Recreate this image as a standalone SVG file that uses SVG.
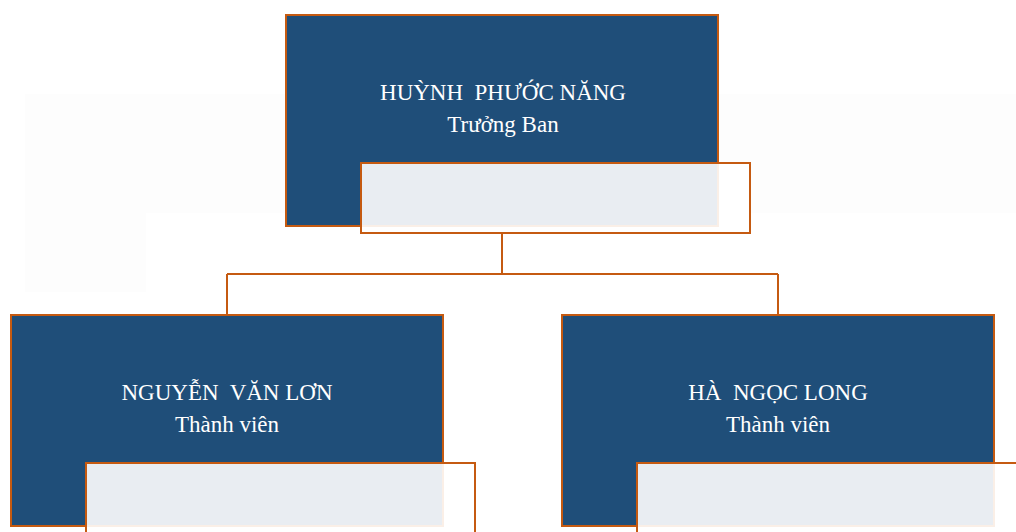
<svg xmlns="http://www.w3.org/2000/svg" width="1016" height="532" viewBox="0 0 1016 532">
<style>
.box{fill:#1f4e79;stroke:#c55a11;stroke-width:2}
.ov{fill:#ffffff;fill-opacity:0.9;stroke:#c55a11;stroke-width:2}
.name,.role{font-family:"Liberation Serif","Times New Roman",serif;fill:#ffffff;text-anchor:middle;font-size:23px;white-space:pre}
.conn{fill:none;stroke:#c55a11;stroke-width:2}
</style>
<rect width="1016" height="532" fill="#ffffff"/>
<g id="background">
<path d="M25 94 H1016 V213 H146 V292 H25 Z" fill="#fdfdfd"/>
</g>
<g id="connectors">
<path class="conn" d="M502 233 V274 M227 274 H778 M227 274 V315 M778 274 V315"/>
</g>
<g id="node-top">
<rect class="box" x="286" y="15" width="432" height="211"/>
<text class="name" x="503" y="100" xml:space="preserve">HUỲNH  PHƯỚC NĂNG</text>
<text class="role" x="503" y="132">Trưởng Ban</text>
<rect class="ov" x="361" y="163" width="389" height="70"/>
</g>
<g id="node-left">
<rect class="box" x="11" y="315" width="432" height="211"/>
<text class="name" x="227" y="400" xml:space="preserve">NGUYỄN  VĂN LƠN</text>
<text class="role" x="227" y="432">Thành viên</text>
<rect class="ov" x="86" y="463" width="389" height="80"/>
</g>
<g id="node-right">
<rect class="box" x="562" y="315" width="432" height="211"/>
<text class="name" x="778" y="400" xml:space="preserve">HÀ  NGỌC LONG</text>
<text class="role" x="778" y="432">Thành viên</text>
<rect class="ov" x="637" y="463" width="400" height="80"/>
</g>
</svg>
